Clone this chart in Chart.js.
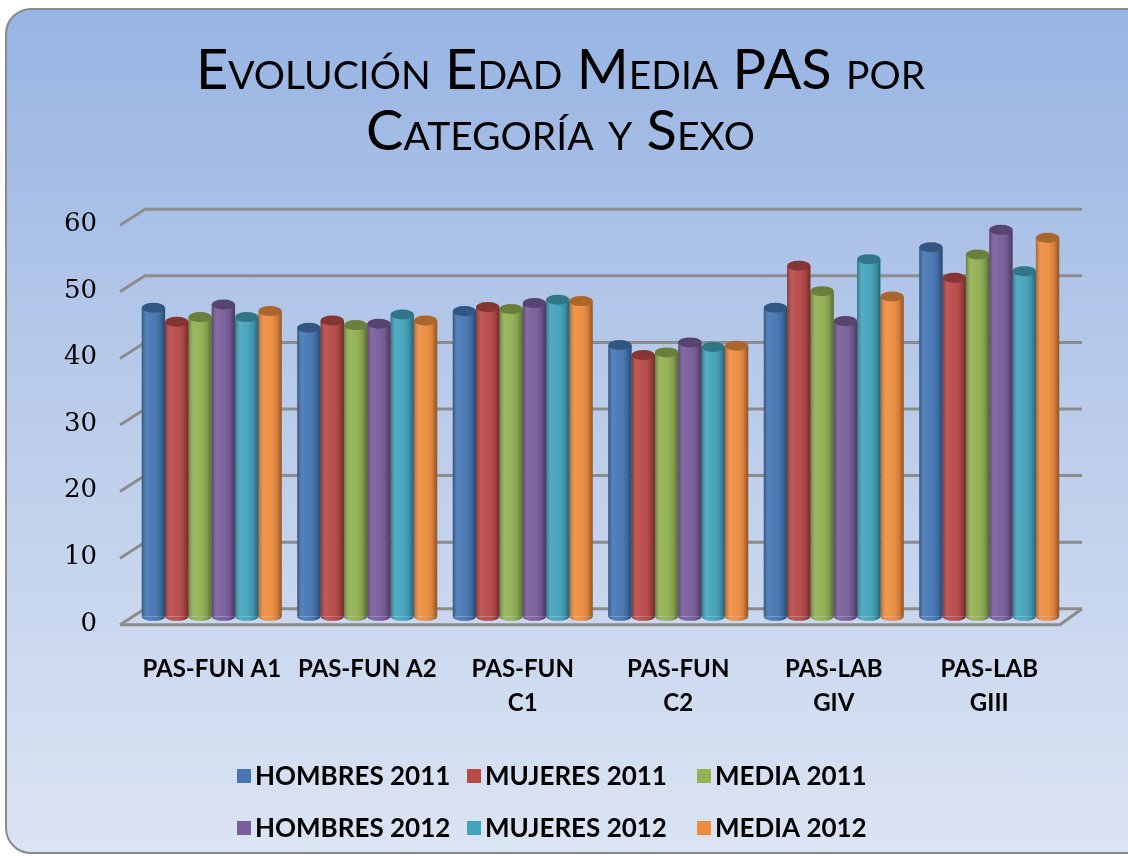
<!DOCTYPE html>
<html lang="es">
<head>
    <meta charset="UTF-8">
    <title>Evolución Edad Media PAS por Categoría y Sexo</title>
    <script src="https://cdn.jsdelivr.net/npm/chart.js"></script>
    <style>
        body {
            margin: 0;
            background: #fff;
            width: 1128px;
            height: 858px;
            overflow: hidden;
            position: relative;
        }

        .card {
            position: absolute;
            left: 5px;
            top: 8px;
            width: 1150px;
            height: 842px;
            border: 2px solid #8a8a8a;
            border-radius: 26px;
            background: linear-gradient(to bottom, #97b4e3 0%, #b9cbea 45%, #dbe4f3 100%);
        }

        #grafico {
            position: absolute;
            left: 0;
            top: 0;
        }
    </style>
</head>
<body>
    <div class="card"></div>
    <canvas id="grafico" width="1128" height="858"></canvas>

    <script>
        // datos
        const categorias = ['PAS-FUN A1', 'PAS-FUN A2', ['PAS-FUN', 'C1'], ['PAS-FUN', 'C2'], ['PAS-LAB', 'GIV'], ['PAS-LAB', 'GIII']];
        const hombres2011 = [46.4, 43.4, 45.9, 40.8, 46.4, 55.5];
        const mujeres2011 = [44.3, 44.5, 46.5, 39.3, 52.7, 50.9];
        const media2011 = [45.0, 43.8, 46.2, 39.7, 48.9, 54.4];
        const hombres2012 = [46.9, 44.0, 47.1, 41.2, 44.4, 58.1];
        const mujeres2012 = [45.0, 45.4, 47.6, 40.5, 53.7, 51.9];
        const media2012 = [45.9, 44.5, 47.4, 40.7, 48.1, 56.9];
        const ejeY = { min: 0, max: 60, paso: 10 };

        const series = [
            { label: 'HOMBRES 2011', data: hombres2011, color: '#4677b5' },
            { label: 'MUJERES 2011', data: mujeres2011, color: '#b94a48' },
            { label: 'MEDIA 2011', data: media2011, color: '#93b153' },
            { label: 'HOMBRES 2012', data: hombres2012, color: '#7a5e9c' },
            { label: 'MUJERES 2012', data: mujeres2012, color: '#44a4bd' },
            { label: 'MEDIA 2012', data: media2012, color: '#ee8d40' }
        ];

        function oscurecer(hex, f) {
            const n = parseInt(hex.slice(1), 16);
            const r = Math.round(((n >> 16) & 255) * f);
            const g = Math.round(((n >> 8) & 255) * f);
            const b = Math.round((n & 255) * f);
            return `rgb(${r},${g},${b})`;
        }

        // rejilla con aspecto 3D (pared del fondo + suelo)
        const rejilla3d = {
            id: 'rejilla3d',
            beforeDatasetsDraw(chart) {
                const { ctx, chartArea: a, scales: { y } } = chart;
                ctx.save();
                ctx.strokeStyle = '#8c8c8c';
                ctx.lineWidth = 3;
                y.ticks.forEach(t => {
                    const py = y.getPixelForValue(t.value);
                    ctx.beginPath();
                    ctx.moveTo(a.left - 14, py + 8);
                    ctx.lineTo(a.left + 11, py - 8);
                    ctx.lineTo(a.right + 15, py - 8);
                    ctx.stroke();
                });
                const base = y.getPixelForValue(0);
                ctx.beginPath();
                ctx.moveTo(a.left - 14, base + 8);
                ctx.lineTo(a.right - 7, base + 8);
                ctx.lineTo(a.right + 15, base - 8);
                ctx.stroke();
                ctx.restore();
            }
        };

        // sombreado de cilindro sobre cada barra
        const cilindros = {
            id: 'cilindros',
            afterDatasetsDraw(chart) {
                const ctx = chart.ctx;
                ctx.save();
                chart.data.datasets.forEach((ds, i) => {
                    const meta = chart.getDatasetMeta(i);
                    meta.data.forEach(bar => {
                        const w = bar.width, x0 = bar.x - w / 2;
                        const g = ctx.createLinearGradient(x0, 0, x0 + w, 0);
                        g.addColorStop(0, 'rgba(0,0,0,0.30)');
                        g.addColorStop(0.25, 'rgba(255,255,255,0.08)');
                        g.addColorStop(0.45, 'rgba(255,255,255,0.03)');
                        g.addColorStop(0.8, 'rgba(0,0,0,0.12)');
                        g.addColorStop(1, 'rgba(0,0,0,0.40)');
                        // fondo redondeado
                        ctx.fillStyle = ds.backgroundColor;
                        ctx.beginPath();
                        ctx.ellipse(bar.x, bar.base, w / 2, 4, 0, 0, Math.PI);
                        ctx.fill();
                        ctx.fillStyle = g;
                        ctx.beginPath();
                        ctx.rect(x0, bar.y, w, bar.base - bar.y);
                        ctx.ellipse(bar.x, bar.base, w / 2, 4, 0, 0, Math.PI);
                        ctx.fill();
                        // tapa superior
                        ctx.fillStyle = oscurecer(ds.color, 0.72);
                        ctx.beginPath();
                        ctx.ellipse(bar.x, bar.y, w / 2, 5, 0, 0, Math.PI * 2);
                        ctx.fill();
                    });
                });
                ctx.restore();
            }
        };

        // leyenda en tres columnas
        const leyenda = {
            id: 'leyenda',
            afterDraw(chart) {
                const ctx = chart.ctx;
                const x0 = chart.width / 2 - 327;
                ctx.save();
                ctx.font = 'bold 26px Lato';
                ctx.textBaseline = 'middle';
                ctx.textAlign = 'left';
                series.forEach((s, i) => {
                    const col = i % 3, fila = Math.floor(i / 3);
                    const x = x0 + col * 230;
                    const y = 776 + fila * 52;
                    ctx.fillStyle = s.color;
                    ctx.fillRect(x, y - 7, 14, 14);
                    ctx.fillStyle = '#000';
                    ctx.fillText(s.label, x + 18, y + 1);
                });
                ctx.restore();
            }
        };

        const ctx = document.getElementById('grafico').getContext('2d');
        const chart = new Chart(ctx, {
            type: 'bar',
            data: {
                labels: categorias,
                datasets: series.map(s => ({
                    label: s.label,
                    data: s.data,
                    color: s.color,
                    backgroundColor: s.color,
                    borderWidth: 0,
                    categoryPercentage: 0.9,
                    barPercentage: 1.0
                }))
            },
            options: {
                responsive: false,
                animation: false,
                layout: {
                    padding: { left: 54, right: 61, top: 0, bottom: 102 }
                },
                plugins: {
                    legend: { display: false },
                    tooltip: { enabled: false },
                    title: {
                        display: true,
                        text: ['Evolución Edad Media PAS por', 'Categoría y Sexo'],
                        color: '#000',
                        font: { family: 'Lato', size: 56, weight: 'small-caps', lineHeight: 1.1 },
                        padding: { top: 40, bottom: 54 }
                    }
                },
                scales: {
                    x: {
                        grid: { display: false, drawTicks: false },
                        border: { display: false },
                        ticks: {
                            color: '#000',
                            font: { family: 'Lato', size: 24, weight: 'bold', lineHeight: 1.4 },
                            padding: 36,
                            maxRotation: 0,
                            autoSkip: false
                        }
                    },
                    y: {
                        min: ejeY.min,
                        max: ejeY.max,
                        grid: { display: false, drawTicks: false },
                        border: { display: false },
                        afterFit(scale) { scale.width = 80; },
                        ticks: {
                            stepSize: ejeY.paso,
                            color: '#000',
                            font: { family: 'DejaVu Serif', size: 26 },
                            padding: 37,
                            labelOffset: 7
                        }
                    }
                }
            },
            plugins: [rejilla3d, cilindros, leyenda]
        });
    </script>
</body>
</html>
